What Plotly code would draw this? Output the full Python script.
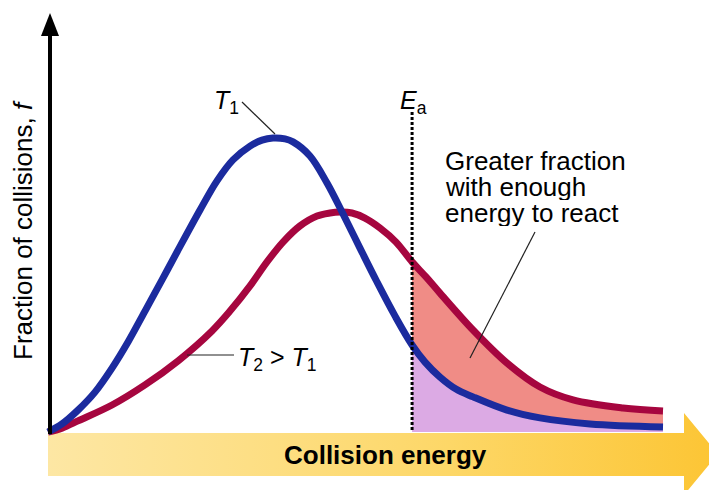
import numpy as np
import plotly.graph_objects as go

# Maxwell-Boltzmann style distributions
energy_T1 = [0, 0.228, 0.488, 0.764, 1.041, 1.301, 1.577, 1.854, 2.098, 2.472, 2.748, 3.008, 3.285,
             3.480, 3.659, 3.854, 3.984, 4.260, 4.537, 4.797, 5.073, 5.350, 5.642, 5.92, 6.130,
             6.374, 6.634, 6.911, 7.463, 8.0, 8.813, 10.0]
frac_T1 = [0, 0.027, 0.073, 0.133, 0.213, 0.3, 0.403, 0.507, 0.6, 0.74, 0.837, 0.907, 0.953,
           0.973, 0.98, 0.977, 0.967, 0.92, 0.83, 0.727, 0.613, 0.5, 0.387, 0.29, 0.233,
           0.183, 0.143, 0.117, 0.073, 0.047, 0.027, 0.017]

energy_T2 = [0, 0.228, 0.488, 1.041, 1.577, 2.114, 2.667, 2.959, 3.285, 3.561, 3.821, 4.098, 4.374,
             4.585, 4.748, 4.943, 5.154, 5.398, 5.659, 5.92, 6.146, 6.374, 6.911, 7.463, 8.0,
             8.537, 9.350, 10.0]
frac_T2 = [0, 0.013, 0.037, 0.09, 0.157, 0.237, 0.337, 0.403, 0.487, 0.567, 0.633, 0.687, 0.72,
           0.73, 0.733, 0.73, 0.713, 0.68, 0.633, 0.567, 0.517, 0.463, 0.34, 0.23, 0.15,
           0.107, 0.08, 0.07]

EA = 5.92  # activation energy

W, H = 717, 490
OFF = 8  # page body margin
FONT = "Liberation Sans, Arial, sans-serif"
BLUE = "#1b2b9e"
RED = "#a6063f"


# pixel helpers for the decoration (origin of the axes sits at pixel 48, 432)
def ex(px):
    return (px - 48) / 61.5


def fy(py):
    return (432 - py) / 300


def paper(px, py):
    return (px - OFF) / W, 1 - (py - OFF) / H


e1 = np.array(energy_T1)
f1 = np.array(frac_T1)
e2 = np.array(energy_T2)
f2 = np.array(frac_T2)
m1 = e1 >= EA
m2 = e2 >= EA

fig = go.Figure()

# yellow energy arrow along the bottom
arrow_px = [48, 684, 684, 718, 684, 684, 48, 48]
arrow_py = [433, 433, 413, 454, 495, 476, 476, 433]
fig.add_trace(go.Scatter(
    x=[ex(p) for p in arrow_px], y=[fy(p) for p in arrow_py],
    mode="lines", line=dict(width=0), fill="toself",
    fillgradient=dict(type="horizontal",
                      colorscale=[[0, "#fde7a4"], [0.6, "#fdd767"], [1, "#fcc534"]]),
    hoverinfo="skip", showlegend=False))

# shaded areas beyond Ea
spl = dict(width=0, shape="spline", smoothing=1)
fig.add_trace(go.Scatter(x=e1[m1], y=np.zeros(m1.sum()), mode="lines",
                         line=dict(width=0), showlegend=False, hoverinfo="skip"))
fig.add_trace(go.Scatter(x=e1[m1], y=f1[m1], mode="lines", line=spl,
                         fill="tonexty", fillcolor="#dcaae4", showlegend=False, hoverinfo="skip"))
fig.add_trace(go.Scatter(x=e2[m2], y=f2[m2], mode="lines", line=spl,
                         fill="tonexty", fillcolor="#f08c86", showlegend=False, hoverinfo="skip"))

# the two curves
fig.add_trace(go.Scatter(x=energy_T2, y=frac_T2, mode="lines",
                         line=dict(color=RED, width=7, shape="spline", smoothing=1),
                         showlegend=False))
fig.add_trace(go.Scatter(x=energy_T1, y=frac_T1, mode="lines",
                         line=dict(color=BLUE, width=7, shape="spline", smoothing=1),
                         showlegend=False))

shapes = []
# Ea dotted line
shapes.append(dict(type="line", xref="x", yref="y", x0=EA, x1=EA, y0=fy(112), y1=fy(432),
                   line=dict(color="black", width=3, dash="3px,2px")))
# y axis with arrowhead
x0, y0 = paper(50, 434)
x1, y1 = paper(50, 32)
shapes.append(dict(type="line", xref="paper", yref="paper", x0=x0, y0=y0, x1=x1, y1=y1,
                   line=dict(color="black", width=4)))
a, b = paper(41, 36)
c, d = paper(50, 13)
e, f = paper(59, 36)
shapes.append(dict(type="path", xref="paper", yref="paper",
                   path=f"M {a} {b} L {c} {d} L {e} {f} Z",
                   fillcolor="black", line=dict(width=0)))
# leader lines
for (pa, pb, pc, pd) in [(242, 102, 275, 134), (187, 355, 234, 355), (535, 232, 470, 358)]:
    u0, v0 = paper(pa, pb)
    u1, v1 = paper(pc, pd)
    shapes.append(dict(type="line", xref="paper", yref="paper", x0=u0, y0=v0, x1=u1, y1=v1,
                       line=dict(color="#222", width=1.2)))


def label(text, px, py, size=25, xanchor="center", **kw):
    u, v = paper(px, py)
    fig.add_annotation(text=text, x=u, y=v, xref="paper", yref="paper", showarrow=False,
                       xanchor=xanchor, yanchor="middle",
                       font=dict(family=FONT, size=size, color="black"), **kw)


label("<i>T</i><sub>1</sub>", 226, 102)
label("<i>E</i><sub>a</sub>", 413, 102)
label("<i>T</i><sub>2</sub> &gt; <i>T</i><sub>1</sub>", 236, 359, xanchor="left")
label("Greater fraction", 443, 161, size=26, xanchor="left", height=26)
label("with enough", 443, 187, size=26, xanchor="left", height=26)
label("energy to react", 443, 213, size=26, xanchor="left", height=26)
label("Fraction of collisions, <i>f</i>", 23, 230, size=26, textangle=-90)
label("<b>Collision energy</b>", 385, 455, size=26)

fig.update_layout(
    width=W, height=H,
    margin=dict(l=0, r=0, t=0, b=0),
    paper_bgcolor="white", plot_bgcolor="white",
    shapes=shapes,
    xaxis=dict(range=[ex(OFF), ex(W + OFF)], visible=False),
    yaxis=dict(range=[fy(H + OFF), fy(OFF)], visible=False),
)

fig.write_html("out.html")
